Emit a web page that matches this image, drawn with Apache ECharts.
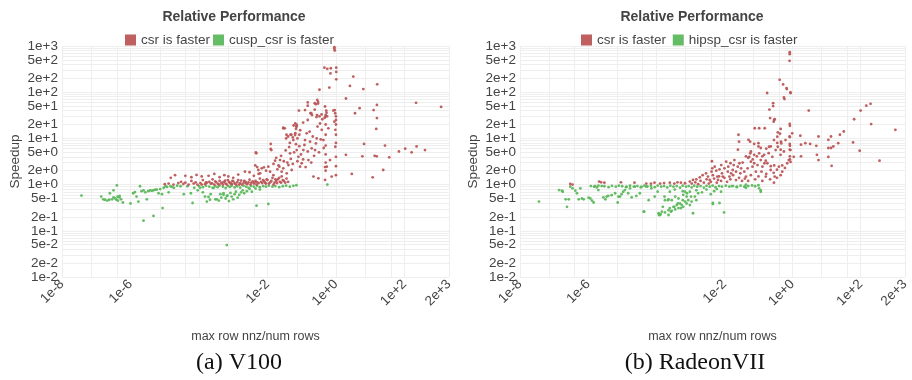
<!DOCTYPE html>
<html>
<head>
<meta charset="utf-8">
<script src="https://cdn.jsdelivr.net/npm/echarts@6/dist/echarts.min.js"></script>
<style>
  html, body { margin: 0; padding: 0; background: #fff; }
  #main { width: 912px; height: 380px; }
</style>
</head>
<body>
<div id="main"></div>
<script>
// tick labels and grid positions
var yTicks = [0.01, 0.02, 0.05, 0.1, 0.2, 0.5, 1, 2, 5, 10, 20, 50, 100, 200, 500, 1000];
var yGrid = [0.01, 0.02, 0.03, 0.04, 0.05, 0.06, 0.07, 0.08, 0.09, 0.1, 0.2, 0.3, 0.4, 0.5, 0.6, 0.7, 0.8, 0.9,
  1, 2, 3, 4, 5, 6, 7, 8, 9, 10, 20, 30, 40, 50, 60, 70, 80, 90, 100, 200, 300, 400, 500, 600, 700, 800, 900, 1000];
var xTicks = [1e-8, 1e-6, 1e-2, 1, 100, 2000];
var xGrid = [1e-8, 7.2e-8, 4e-7, 1e-6, 7.2e-6, 4e-5, 1e-4, 7.2e-4, 4e-3, 1e-2, 7.2e-2, 0.4, 1, 7.2, 40, 100, 2000];

// (a) V100 - csr is faster
var v100Csr = [
  [1e-5,1.02],[1.3e-5,1.05],[1.8e-5,1.0],[2.5e-5,1.08],[3e-5,1.15],[3.5e-5,1.03],[4e-5,1.1],[5e-5,1.0],[6e-5,1.2],[7e-5,1.05],
  [8e-5,1.12],[9e-5,1.0],[1.1e-4,1.08],[1.3e-4,1.25],[1.5e-4,1.02],[1.7e-4,1.1],[2e-4,1.15],[2.2e-4,1.05],[2.5e-4,1.3],[2.8e-4,1.0],
  [3.2e-4,1.12],[3.6e-4,1.04],[4e-4,1.2],[4.5e-4,1.08],[5e-4,1.0],[5.5e-4,1.15],[6e-4,1.05],[7e-4,1.25],[8e-4,1.1],[9e-4,1.02],
  [1e-3,1.18],[1.1e-3,1.06],[1.3e-3,1.12],[1.5e-3,1.0],[1.7e-3,1.22],[2e-3,1.08],[2.3e-3,1.15],[2.6e-3,1.03],[3e-3,1.28],[3.4e-3,1.1],
  [4e-3,1.05],[4.5e-3,1.2],[5e-3,1.12],[6e-3,1.35],[7e-3,1.08],[8e-3,1.18],[9e-3,1.05],[0.01,1.25],[0.012,1.12],[0.014,1.4],
  [0.016,1.1],[0.018,1.2],[0.02,1.3],[0.023,1.15],[0.026,1.5],[0.03,1.2],
  [1.2e-4,1.0],[1.6e-4,1.12],[2.4e-4,1.06],[3e-4,1.18],[3.8e-4,1.0],[4.8e-4,1.1],[5.8e-4,1.22],[6.5e-4,1.0],[7.5e-4,1.14],[8.5e-4,1.06],
  [9.5e-4,1.2],[1.2e-3,1.0],[1.4e-3,1.25],[1.6e-3,1.08],[1.8e-3,1.0],[2.1e-3,1.2],[2.4e-3,1.05],[2.8e-3,1.12],[3.2e-3,1.0],[3.7e-3,1.18],
  [4.2e-3,1.1],[4.8e-3,1.0],[5.5e-3,1.08],[6.5e-3,1.15],[7.5e-3,1.25],[8.5e-3,1.1],[9.5e-3,1.3],[0.011,1.05],[0.013,1.2],[0.015,1.0],
  [0.017,1.3],[0.019,1.08],[0.022,1.4],[0.025,1.1],[0.028,1.25],[0.033,1.1],[0.036,1.35],[0.04,1.15],
  [1.5e-5,1.4],[2e-5,1.6],[4e-5,1.55],[6e-5,1.45],[8.5e-5,1.62],[1.2e-4,1.5],[1.9e-4,1.55],[2.8e-4,1.7],[4e-4,1.45],[5.5e-4,1.6],
  [7.2e-4,1.5],[1e-3,1.4],[1.4e-3,1.65],[2.2e-3,1.9],[3e-3,1.85],[4e-3,1.55],[5.5e-3,1.7],
  [4.4e-3,2.6],[5e-3,2.4],[5.4e-3,2.07],[6.1e-3,1.75],[6.8e-3,2.25],[7.9e-3,2.36],[9.1e-3,2.0],[0.0106,2.44],[0.0119,1.9],[0.0149,1.6],
  [0.0167,3.3],[0.0195,2.14],[0.0223,2.44],[0.0233,3.4],[0.026,1.9],[0.029,2.25],[0.0365,1.75],[0.041,2.65],[0.0457,4.75],[0.051,2.07],
  [0.057,9.2],[0.064,11.8],[0.0715,5.6],[0.08,4.0],[0.0895,2.44],[0.1,2.9],[0.112,5.6],[0.125,9.2],[0.14,12.9],[0.157,3.4],
  [0.175,8.5],[0.196,6.1],[0.22,1.49],[0.245,5.6],[0.274,10],[0.307,1.37],[0.343,21],[0.384,15.3],[0.43,9.2],[0.48,49],
  [0.48,1.26],[0.54,2.44],[0.6,16.5],[0.67,3.4],[0.75,1.49],[0.84,40],[0.9,23],[0.96,15.3],[0.96,6.6],
  [0.5,30],[0.5,20],[0.5,12],[0.5,7],[0.5,4.5],[0.5,3],[0.5,2],[1,30],[1,20],[1,12],[1,8],[1,4],[1,2.5],[1,1.6],
  [0.029,16.5],[0.032,16.5],[0.0125,7.6],[0.013,5.6],[4.7e-3,4.75],[0.0124,5.9],[0.0046,5.0],
  [0.015,2.8],[0.018,3.8],[0.021,2.6],[0.025,4.2],[0.03,3.2],[0.034,5.5],[0.038,3.0],[0.043,6.5],[0.048,3.6],[0.055,2.8],
  [0.06,5.0],[0.068,7.5],[0.075,3.2],[0.085,6.8],[0.095,4.5],[0.11,3.5],[0.12,7.2],[0.13,2.4],[0.15,5.2],[0.17,14],
  [0.19,3.0],[0.21,11],[0.23,4.2],[0.26,7.8],[0.29,18],[0.32,5.0],[0.36,9.5],[0.4,26],[0.44,6.2],[0.07,18],
  [0.09,15],[0.11,22],[0.15,25],[0.19,35],[0.24,42],[0.045,8],[0.05,12],[0.035,10],
  [0.9,940],[0.9,870],[0.92,800],[0.46,340],[0.56,320],[0.71,330],[0.69,255],[1.02,340],[1.02,275],[1.02,190],
  [0.33,113],[0.64,126],[0.285,68],[0.3,62],[0.24,58],[0.26,55],[0.3,57],[0.15,60],[0.15,51],[0.083,40],
  [0.125,41],[0.18,35],[0.2,32],[0.28,32],[0.33,30],[0.27,29],[0.38,33],[0.52,40],[0.53,36],[0.5,32],
  [0.55,30],[0.47,28],[0.92,41],[0.95,35],[1.0,25],[0.065,21],[0.072,19.5],[0.058,19],[0.07,18],[0.068,16],
  [0.029,17],[0.036,12],[0.04,11],[0.047,12],[0.055,10.5],[0.065,13],[0.075,10],[0.085,12],
  [3.2,218],[2.56,137],[6.3,117],[16,148],[1.96,73],[3.6,35],[4.9,45],[12.6,41],[15.7,53],[15.7,27.6],
  [15,16],[218,59],[1175,48],[6.6,7.6],[27,7.0],[69,5.2],[105,6.0],[162,5.0],[226,6.7],[398,5.6],
  [13.5,4.2],[15.5,4.1],[5.9,4.1],[1.95,4.4],[36,3.9],[2.9,1.7],[11.8,1.44],[24,2.07],[0.48,2.4]
];

// (a) V100 - cusp_csr is faster
var v100Cusp = [
  [3.7e-8,0.58],[1.4e-7,0.55],[1.6e-7,0.48],[1.8e-7,0.47],[2.1e-7,0.45],[2.4e-7,0.47],[2.9e-7,0.48],[3.2e-7,0.53],[3.6e-7,0.5],[3.9e-7,0.47],
  [4.3e-7,0.45],[4.7e-7,0.53],[5.3e-7,0.48],[6e-7,0.41],[2.5e-7,0.65],[3.2e-7,0.75],[4e-7,0.96],[4.2e-7,0.55],[4.8e-7,0.57],
  [1e-6,0.39],[1.2e-6,0.65],[1.35e-6,0.69],[1.5e-6,0.55],[1.7e-6,0.43],[1.9e-6,0.92],[2.1e-6,0.72],[2.4e-6,0.75],[2.7e-6,0.68],[3e-6,0.48],
  [3.3e-6,0.72],[3.7e-6,0.75],[4.2e-6,0.74],[4.7e-6,0.75],[5.3e-6,0.78],[5.9e-6,0.78],[6.6e-6,0.65],[7.4e-6,0.8],[8.3e-6,0.62],[9.3e-6,0.85],
  [1.05e-5,0.92],[1.17e-5,0.89],[1.3e-5,0.68],[1.47e-5,0.92],[1.65e-5,0.89],[1.85e-5,0.85],[2.3e-5,0.95],[2.9e-5,0.92],[3.6e-5,0.62],[4.6e-5,0.92],
  [5.8e-5,0.65],[6.5e-5,0.4],[7.3e-5,0.85],[9.2e-5,0.75],[1.07e-4,0.85],[1.3e-4,0.68],[1.7e-4,0.43],[1.9e-4,0.54],[2.1e-4,0.47],[2.7e-4,0.85],
  [3.3e-4,0.48],[4.2e-4,0.62],[5.2e-4,0.65],[6.5e-4,0.57],
  [2.4e-6,0.166],[4.7e-6,0.21],[8.7e-6,0.31],[6.5e-4,0.049],[4.8e-3,0.35],[0.0106,0.38],[0.56,1.0],
  [1e-4,0.93],[1.3e-4,0.88],[1.6e-4,0.95],[2e-4,0.9],[2.5e-4,0.85],[3e-4,0.93],[3.5e-4,0.88],[4e-4,0.96],[5e-4,0.9],[6e-4,0.84],
  [7e-4,0.93],[8e-4,0.89],[9e-4,0.95],[1.1e-3,0.87],[1.3e-3,0.92],[1.6e-3,0.86],[2e-3,0.94],[2.4e-3,0.9],[2.8e-3,0.85],[3.3e-3,0.93],
  [4e-3,0.9],[5e-3,0.95],[6e-3,0.88],[7.5e-3,0.93],[9e-3,0.9],[0.011,0.95],[0.014,0.9],[0.017,0.93],[0.022,0.88],[0.028,0.92],
  [0.035,0.95],[0.045,0.9],[0.057,0.94],[0.07,0.97],
  [1.5e-4,0.55],[2.2e-4,0.62],[3e-4,0.48],[3.8e-4,0.45],[4.5e-4,0.52],[5.2e-4,0.6],[6e-4,0.5],[6.8e-4,0.58],[7.5e-4,0.44],[8.3e-4,0.66],
  [9e-4,0.55],[1e-3,0.48],[1.1e-3,0.62],[1.2e-3,0.7],[1.35e-3,0.52],[1.5e-3,0.6],[1.7e-3,0.68],[1.9e-3,0.75],[2.1e-3,0.65],[2.5e-3,0.72],
  [3e-3,0.8],[3.5e-3,0.7],[4.5e-3,0.82],[6e-3,0.78]
];

// (b) RadeonVII - csr is faster
var radeonCsr = [
  [0.83,736],[0.83,667],[0.82,478],[0.42,185],[0.53,147],[0.67,123],[0.68,117],[0.87,99],[0.88,96],[0.18,96],
  [0.56,77],[0.58,71],[0.27,58],[0.27,50],[0.21,42],[3.0,40],[147,51],[196,56],[100,40],[64.5,26],
  [204,20.4],[1050,15.3],[0.22,27.5],[0.29,25],[0.28,23],[0.3,26],[0.105,16.6],[0.078,16.6],[0.153,16.6],[0.83,20.7],
  [0.84,18.7],[0.82,11],[0.84,10.7],[0.83,7.6],[0.84,6.9],[0.83,5.7],[0.84,4.1],[0.84,3.5],[0.45,16],[0.37,13.5],
  [0.43,12.6],[0.357,8],[0.46,8.5],[0.37,6.6],[0.45,5.7],[0.051,9.3],[0.057,8.5],[0.075,7.6],[0.1,7.9],[0.1,6.7],
  [0.117,6.2],[0.06,5.2],[0.043,4.1],[0.05,3.8],[0.068,3.5],[0.09,4.1],[0.13,4.1],[0.164,3.3],[0.15,2.9],[0.075,2.9],
  [0.23,2.5],[0.29,2.6],[0.2,4.8],[0.23,6.7],[0.17,6.0],[0.026,12],[0.027,8.5],[0.025,5.7],[4.3e-3,3.2],[1.7,11.4],
  [1.78,7.3],[2.38,7.9],[3.3,7.6],[5.0,6.9],[5.8,11],[13.5,11],[11.3,9.3],[15.8,6.7],[13.5,6.2],[24.7,12],
  [32,14.1],[22,7.9],[60,8.2],[94,5.4],[359,3.3],[5.2,4.4],[5.8,3.4],[14.1,2.55],[11.3,3.98],[1.78,4.1],[11.3,6.2],
  [3.3e-3,1.49],[3.7e-3,1.26],[4.2e-3,1.9],[4.4e-3,2.25],[4.6e-3,1.6],[5.2e-3,2.44],[5.8e-3,2.0],[6.2e-3,1.49],[6.5e-3,1.26],[7.2e-3,2.14],
  [8.1e-3,2.65],[8.5e-3,1.75],[9e-3,1.49],[0.0101,2.25],[0.0113,3.14],[0.0126,1.9],[0.013,2.44],[0.0141,1.49],[0.0151,2.9],[0.0158,1.75],
  [0.0176,2.07],[0.0188,2.65],[0.0197,3.4],[0.022,1.9],[0.0247,2.44],[0.0276,2.9],[0.0295,1.75],[0.031,2.25],[0.0344,3.0],[0.0385,1.9],
  [0.043,1.49],[0.048,2.25],[0.054,4.0],[0.0575,4.75],[0.06,3.14],[0.067,2.44],[0.075,4.4],[0.084,1.9],[0.094,2.65],[0.105,4.75],
  [0.117,3.4],[0.123,1.9],[0.131,2.44],[0.147,4.4],[0.164,1.49],[0.183,2.9],[0.205,6.6],[0.229,2.07],[0.256,4.0],[0.286,9.2],
  [0.3,1.49],[0.32,5.6],[0.358,10.9],[0.4,2.44],[0.447,4.4],[0.468,7.8],[0.5,1.9],[0.56,5.2],[0.625,9.2],[0.7,2.9],
  [0.78,3.4],[0.87,5.6],[0.98,12.9],[1.09,4.0],
  [3e-7,1.03],[3.5e-7,1.0],[2.1e-6,1.16],[2.4e-6,1.12],[3e-6,1.1],[9.2e-6,1.12],[2.3e-5,1.1],[5.1e-5,1.05],[7e-5,1.05],[8.9e-5,1.1],
  [1.3e-4,1.05],[1.7e-4,1.08],[2.5e-4,1.1],[3.4e-4,1.05],[4.2e-4,1.12],[5.3e-4,1.1],[7e-4,1.07],[9.7e-4,1.16],[1.2e-3,1.26],[1.5e-3,1.3],
  [1.9e-3,1.44],[2.3e-3,1.6],[2.9e-3,1.75],
  [1.1e-3,1.05],[1.4e-3,1.12],[1.7e-3,1.02],[2e-3,1.2],[2.5e-3,1.1],[3e-3,1.3],[3.5e-3,1.05],[4e-3,1.15],[5e-3,1.35],[6e-3,1.1],
  [7e-3,1.5],[8e-3,1.2],[0.01,1.4],[0.012,1.15],[0.015,1.3],[0.018,1.6],[0.022,1.25],[0.027,1.4],[0.033,1.2],[0.04,1.35],
  [0.05,1.2],[0.06,1.6],[0.08,1.3],[0.1,1.5],[0.13,1.2],[0.17,1.7],[0.22,1.3],[0.28,1.8],[0.35,1.4],[0.45,1.6],
  [0.286,1.1],[0.35,2.1],[0.6,2.3],[0.88,3.1],[0.5,2.6]
];

// (b) RadeonVII - hipsp_csr is faster
var radeonHipsp = [
  [3.6e-8,0.43],[1.4e-7,0.76],[1.7e-7,0.74],[1.8e-7,0.7],[2.2e-7,0.48],[2.4e-7,0.33],[2.7e-7,0.48],[3e-7,0.9],[3.5e-7,0.83],[4.2e-7,0.74],
  [4.7e-7,0.65],[5.3e-7,0.48],[5.9e-7,0.83],[6.6e-7,0.5],[7.4e-7,0.48],[1.03e-6,0.52],[1.16e-6,0.5],[1.3e-6,0.45],[1.45e-6,0.41],[1.6e-6,0.93],
  [1.8e-6,0.87],[2e-6,0.76],[2.5e-6,0.93],[2.8e-6,0.53],[3.2e-6,0.48],[3.5e-6,0.55],[3.9e-6,0.57],[4.9e-6,0.59],[6.2e-6,0.65],[7.4e-6,0.41],
  [7.7e-6,0.55],[8.6e-6,0.55],[9.6e-6,0.62],[1.07e-5,0.7],[1.2e-5,0.76],[1.34e-5,0.9],[1.5e-5,0.65],[1.7e-5,0.83],[1.9e-5,0.53],[2.35e-5,0.9],
  [2.6e-5,0.57],[3.3e-5,0.65],[3.7e-5,0.9],[4.4e-5,0.26],[5.1e-5,0.9],[6e-5,0.46],[7.2e-5,0.83],[9e-5,0.55],[1.1e-4,0.7],[1.34e-4,0.23],
  [1.56e-4,0.33],[1.75e-4,0.55],[2.2e-4,0.46],[2.7e-4,0.26],[3.4e-4,0.33],[4.3e-4,0.39],[5.3e-4,0.31],[6e-4,0.46],
  [1.2e-6,0.93],[1.5e-6,0.9],[2e-6,0.95],[3e-6,0.92],[4e-6,0.88],[5e-6,0.94],[6.5e-6,0.9],[8e-6,0.95],[1e-5,0.92],[1.3e-5,0.88],
  [1.7e-5,0.95],[2.2e-5,0.9],[2.8e-5,0.93],[3.5e-5,0.87],[4.5e-5,0.95],[5.5e-5,0.91],[7e-5,0.94],[9e-5,0.88],[1.1e-4,0.95],[1.4e-4,0.9],
  [1.7e-4,0.93],[2.1e-4,0.87],[2.6e-4,0.95],[3.2e-4,0.9],[4e-4,0.93],[5e-4,0.86],[6e-4,0.95],[7.5e-4,0.9],[9e-4,0.93],[1.1e-3,0.87],
  [1.3e-3,0.95],[1.6e-3,0.9],[2e-3,0.93],[2.5e-3,0.86],[3e-3,0.94],[3.7e-3,0.9],[4.5e-3,0.95],[5.5e-3,0.88],[7e-3,0.93],[8.5e-3,0.9],
  [0.011,0.95],[0.014,0.9],[0.018,0.93],[0.023,0.88],[0.03,0.95],[0.04,0.9],[0.05,0.93],[0.065,0.96],[0.08,0.92],[0.1,0.97],
  [2.5e-4,0.7],[3.5e-4,0.78],[6e-4,0.72],[8e-4,0.65],[1.5e-3,0.75],[2.2e-3,0.68],[3e-3,0.78],[4e-3,0.62],[5e-3,0.72],[6e-3,0.8],[8e-3,0.7],
  [1.17e-4,0.24],[1.3e-4,0.22],[1.46e-4,0.26],[1.8e-4,0.25],[2.3e-4,0.28],[2.5e-4,0.31],[2.85e-4,0.27],[3.2e-4,0.33],[3.6e-4,0.29],[4e-4,0.36],
  [4.5e-4,0.31],[5e-4,0.39],[5.6e-4,0.36],[6.2e-4,0.33],[7e-4,0.43],[7.8e-4,0.39],[8.7e-4,0.46],[9.7e-4,0.36],[1.05e-3,0.55],[1.09e-3,0.43],
  [7.8e-4,0.55],[6.2e-4,0.6],[4.5e-4,0.5],[3.6e-4,0.55],[7e-4,0.7],[9.7e-4,0.7],[2.85e-4,0.46],[1.8e-4,0.46],[2.3e-4,0.48],[1.36e-3,0.55],
  [1.5e-3,0.46],[1.7e-3,0.65],[2.3e-4,0.22],[1.2e-4,0.22],
  [4.3e-5,0.26],[4.6e-3,0.4],[7.2e-3,0.4],[9.8e-3,0.25],[1.2e-3,0.24],[0.043,1.0],[0.117,0.7],
  [4.6e-3,0.38],[0.0165,0.93],[0.0235,0.9],[0.0385,0.9],[0.043,0.85],[0.105,0.83],[0.117,0.75]
];

var fmt = function (v) {
  return Number(Number(v).toPrecision(1)).toExponential();
};

var dom = document.getElementById('main');
var chart = echarts.init(dom);

function xAxisFor(idx) {
  return {
    type: 'log', gridIndex: idx, min: 1e-8, max: 2000,
    axisLine: { show: false },
    axisTick: { show: false, customValues: xGrid },
    axisLabel: { customValues: xTicks, formatter: fmt, rotate: 45, margin: 5,
      fontSize: 13.5, color: '#444', fontFamily: 'Liberation Sans' },
    splitLine: { show: true, lineStyle: { color: '#eeeeee', width: 1 } },
    name: 'max row nnz/num rows', nameLocation: 'middle', nameGap: 53,
    nameTextStyle: { fontSize: 12.5, color: '#444', fontFamily: 'Liberation Sans' }
  };
}

function yAxisFor(idx) {
  return {
    type: 'log', gridIndex: idx, min: 0.01, max: 1000,
    axisLine: { show: false },
    axisTick: { show: false, customValues: yGrid },
    axisLabel: { customValues: yTicks, formatter: fmt, margin: 4,
      fontSize: 13.5, color: '#444', fontFamily: 'Liberation Sans' },
    splitLine: { show: true, lineStyle: { color: '#eeeeee', width: 1 } },
    name: 'Speedup', nameLocation: 'middle', nameGap: 40,
    nameTextStyle: { fontSize: 13.5, color: '#444', fontFamily: 'Liberation Sans' }
  };
}

var red = '#bb5757';
var green = '#5cb85c';

function dots(name, data, idx, color) {
  return {
    type: 'scatter', name: name, data: data,
    xAxisIndex: idx, yAxisIndex: idx,
    symbol: 'circle', symbolSize: 2.8,
    itemStyle: { color: color, opacity: 0.95 },
    animation: false
  };
}

chart.setOption({
  animation: false,
  textStyle: { fontFamily: 'Liberation Sans' },
  title: [
    { text: 'Relative Performance', left: 229, top: 5, textAlign: 'center',
      textStyle: { fontSize: 14, fontWeight: 'bold', color: '#444' } },
    { text: 'Relative Performance', left: 687, top: 5, textAlign: 'center',
      textStyle: { fontSize: 14, fontWeight: 'bold', color: '#444' } },
    { text: '(a) V100', left: 234, top: 346, textAlign: 'center',
      textStyle: { fontSize: 24, fontWeight: 'normal', color: '#111', fontFamily: 'Liberation Serif' } },
    { text: '(b) RadeonVII', left: 690, top: 346, textAlign: 'center',
      textStyle: { fontSize: 24, fontWeight: 'normal', color: '#111', fontFamily: 'Liberation Serif' } }
  ],
  legend: [
    { data: ['csr is faster', 'cusp_csr is faster'], left: 120, top: 28, icon: 'rect',
      itemWidth: 11, itemHeight: 11, itemGap: 3,
      textStyle: { fontSize: 13.5, color: '#444' } },
    { data: ['csr is faster ', 'hipsp_csr is faster'], left: 576, top: 28, icon: 'rect',
      itemWidth: 11, itemHeight: 11, itemGap: 3,
      textStyle: { fontSize: 13.5, color: '#444' } }
  ],
  grid: [
    { left: 62, top: 46, width: 387, height: 231 },
    { left: 520, top: 46, width: 389, height: 231 }
  ],
  xAxis: [xAxisFor(0), xAxisFor(1)],
  yAxis: [yAxisFor(0), yAxisFor(1)],
  series: [
    dots('cusp_csr is faster', v100Cusp, 0, green),
    dots('csr is faster', v100Csr, 0, red),
    dots('hipsp_csr is faster', radeonHipsp, 1, green),
    dots('csr is faster ', radeonCsr, 1, red)
  ]
});
</script>
</body>
</html>
